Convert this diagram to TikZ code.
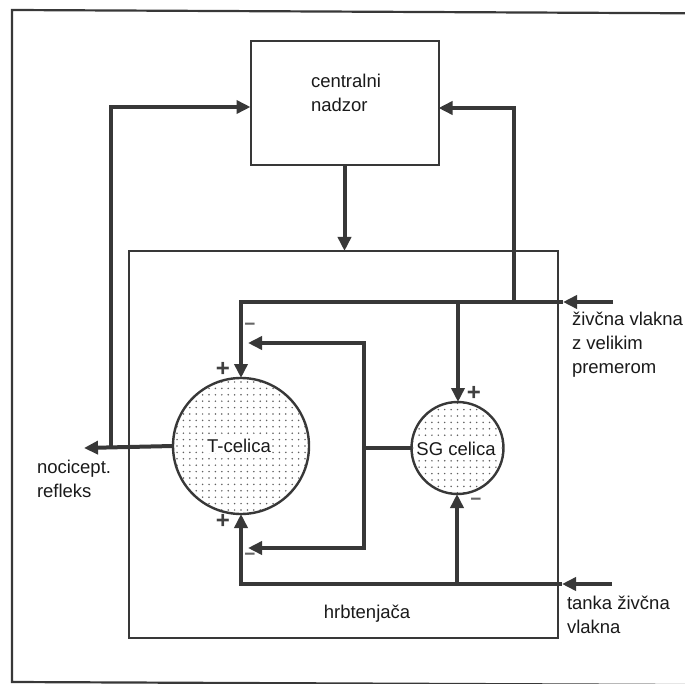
\documentclass[tikz,border=0pt]{standalone}
\usepackage{fontspec}
\setmainfont{Liberation Sans}
\usetikzlibrary{arrows.meta}
\definecolor{linec}{HTML}{383838}
\definecolor{textc}{HTML}{1A1A1A}
\definecolor{dotc}{HTML}{606060}
\definecolor{signc}{HTML}{404040}
\begin{document}
\begin{tikzpicture}[x=1pt,y=-1pt,
  frameline/.style={draw=linec,line width=2.2pt},
  boxline/.style={draw=linec,line width=2pt,inner sep=0pt,outer sep=0pt},
  thickline/.style={draw=linec,line width=4pt},
  arr/.style={thickline,-{Triangle[length=14pt,width=13pt]}},
  cell/.style={circle,draw=linec,line width=2.4pt,fill=white,inner sep=0pt,outer sep=0pt,
    path picture={\foreach \i in {-11,...,11}{\foreach \j in {-11,...,11}{
      \fill[dotc] ([shift={(\i*6.4pt,\j*6.4pt)}]path picture bounding box.center) circle[radius=0.85pt];}}}},
  txt/.style={text=textc,font=\fontsize{18.5}{24}\selectfont,inner sep=0pt,outer sep=0pt},
  celltxt/.style={txt,fill=white,inner sep=1pt},
  plus/.style={text=signc,font=\fontsize{24}{24}\selectfont\bfseries,inner sep=0pt},
  minus/.style={text=signc!80,font=\fontsize{19}{19}\selectfont\bfseries,inner sep=0pt}
]
\useasboundingbox (0,0) rectangle (685,684);
\fill[white] (0,0) rectangle (685,684);

% outer frame
\draw[frameline] (690,13.3) -- (12,10) -- (12,682) -- (690,685);

% boxes
\node[boxline,minimum width=188pt,minimum height=124pt] (CN) at (344.5,103) {};
\node[txt,align=left,anchor=base west] (CNT) at (311,112) {centralni\\nadzor};
\node[boxline,minimum width=429pt,minimum height=387pt] (SC) at (343.5,444.5) {};
\node[txt,anchor=base] (HB) at (367,618) {hrbtenjača};

% coordinates
\coordinate (NR) at (84,448);
\coordinate (J1) at (111,448);
\coordinate (FA) at (613,302);
\coordinate (FAt) at (563,302);
\coordinate (J2) at (514,302);
\coordinate (J3) at (458,302);
\coordinate (FB) at (612,584);
\coordinate (FBt) at (562,584);
\coordinate (J5) at (457,584);
\coordinate (J4) at (364,448);
\coordinate (LT) at (248,343);
\coordinate (LB) at (248,548);

% cells
\node[cell,minimum size=136pt] (T) at (241,446) {};
\node[cell,minimum size=92pt] (SG) at (457.5,448) {};
\node[celltxt,anchor=base] (TT) at (239,452) {T-celica};
\node[celltxt,anchor=base] (SGT) at (456,455) {SG celica};

% connectors
\draw[arr] (T.west) -- (NR);
\draw[arr] (J1) |- ([yshift=-4pt]CN.west);
\draw[arr] (J2) |- ([yshift=-5pt]CN.east);
\draw[arr] (CN.south) -- (CN.south |- SC.north);
\draw[arr] (FA) -- (FAt);
\draw[arr] (FAt) -| (T.north);
\draw[arr] (J3) -- (J3 |- SG.north);
\draw[arr] (FB) -- (FBt);
\draw[arr] (FBt) -| (T.south);
\draw[arr] (J5) -- (J5 |- SG.south);
\draw[thickline] (SG.west) -- (J4);
\draw[arr] (J4) |- (LT);
\draw[arr] (J4) |- (LB);

% labels
\node[txt,align=left,anchor=north west] (L1) at (572,312) {živčna vlakna\\z velikim\\premerom};
\node[txt,align=left,anchor=north west] (L2) at (567,596) {tanka živčna\\vlakna};
\node[txt,align=left,anchor=north west] (L3) at (37,460) {nocicept.\\refleks};

% signs
\node[plus] (P1) at (223,369) {+};
\node[minus] (M1) at (250,327) {−};
\node[plus] (P2) at (223,521) {+};
\node[minus] (M2) at (250,557) {−};
\node[plus] (P3) at (474,393) {+};
\node[minus] (M3) at (476,502) {−};
\end{tikzpicture}
\end{document}
